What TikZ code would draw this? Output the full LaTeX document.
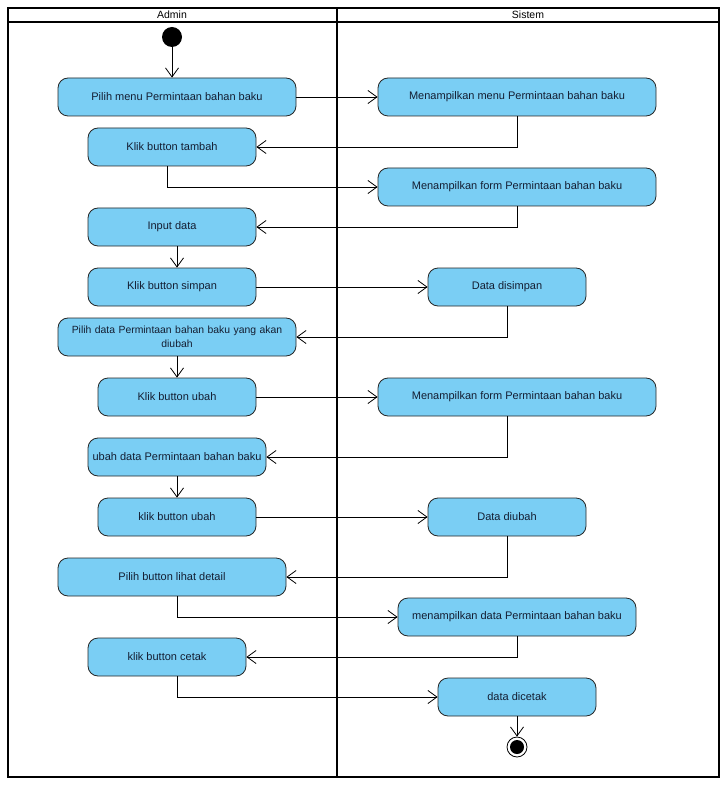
\documentclass[tikz,border=0pt]{standalone}
\usepackage{fontspec}
\setmainfont{Liberation Sans}
\usetikzlibrary{arrows.meta}
\definecolor{actblue}{RGB}{122,206,244}
\definecolor{acttext}{RGB}{20,30,50}

\begin{document}
\begin{tikzpicture}[x=1pt,y=-1pt,
  act/.style={draw=black!85, fill=actblue, rounded corners=10pt, line width=0.8pt,
    minimum height=38pt, inner sep=2pt, align=center, text=acttext,
    font=\fontsize{11}{14}\selectfont},
  flow/.style={-{Straight Barb[length=9pt,width=13pt]}, line width=0.8pt},
  lane/.style={line width=1.8pt},
  lanetitle/.style={font=\fontsize{10.5}{12}\selectfont}]
\useasboundingbox (0,0) rectangle (726,786);
% swimlanes
\draw[lane] (8,8) rectangle (719,777);
\draw[lane] (8,22) -- (719,22);
\draw[lane] (337,8) -- (337,777);
\node[lanetitle] (admin) at (172,15) {Admin};
\node[lanetitle] (sistem) at (528,15) {Sistem};

% start / end
\node[circle, fill=black, minimum size=20pt, inner sep=0pt] (start) at (172,37) {};
\node[circle, draw=black, line width=0.8pt, fill=white, minimum size=20pt, inner sep=0pt] (finish) at (517,747) {};
\fill (finish.center) circle (7pt);

% actions
\node[act, minimum width=238pt] (pilihmenu) at (177,97) {Pilih menu Permintaan bahan baku};
\node[act, minimum width=278pt] (tampilmenu) at (517,97) {Menampilkan menu Permintaan bahan baku};
\node[act, minimum width=168pt] (tambah) at (172,147) {Klik button tambah};
\node[act, minimum width=278pt] (tampilform) at (517,187) {Menampilkan form Permintaan bahan baku};
\node[act, minimum width=168pt] (input) at (172,227) {Input data};
\node[act, minimum width=168pt] (simpan) at (172,287) {Klik button simpan};
\node[act, minimum width=158pt] (disimpan) at (507,287) {Data disimpan};
\node[act, minimum width=238pt, text width=234pt, font=\fontsize{10.4}{13.5}\selectfont] (pilihdata) at (177,337) {Pilih data Permintaan bahan baku yang akan\\diubah};
\node[act, minimum width=158pt] (ubah) at (177,397) {Klik button ubah};
\node[act, minimum width=278pt] (tampilubah) at (517,397) {Menampilkan form Permintaan bahan baku};
\node[act, minimum width=178pt] (ubahdata) at (177,457) {ubah data Permintaan bahan baku};
\node[act, minimum width=158pt] (klikubah) at (177,517) {klik button ubah};
\node[act, minimum width=158pt] (diubah) at (507,517) {Data diubah};
\node[act, minimum width=228pt] (detail) at (172,577) {Pilih button lihat detail};
\node[act, minimum width=238pt] (tampildata) at (517,617) {menampilkan data Permintaan bahan baku};
\node[act, minimum width=158pt] (cetak) at (167,657) {klik button cetak};
\node[act, minimum width=158pt] (dicetak) at (517,697) {data dicetak};

% flows
\draw[flow] (start.south) -- ([xshift=-5pt]pilihmenu.north);
\draw[flow] (pilihmenu.east) -- (tampilmenu.west);
\draw[flow] (tampilmenu.south) |- (tambah.east);
\draw[flow] ([xshift=-5pt]tambah.south) |- (tampilform.west);
\draw[flow] (tampilform.south) |- (input.east);
\draw[flow] ([xshift=5pt]input.south) -- ([xshift=5pt]simpan.north);
\draw[flow] (simpan.east) -- (disimpan.west);
\draw[flow] (disimpan.south) |- (pilihdata.east);
\draw[flow] (pilihdata.south) -- (ubah.north);
\draw[flow] (ubah.east) -- (tampilubah.west);
\draw[flow] ([xshift=-10pt]tampilubah.south) |- (ubahdata.east);
\draw[flow] (ubahdata.south) -- (klikubah.north);
\draw[flow] (klikubah.east) -- (diubah.west);
\draw[flow] (diubah.south) |- (detail.east);
\draw[flow] ([xshift=5pt]detail.south) |- (tampildata.west);
\draw[flow] (tampildata.south) |- (cetak.east);
\draw[flow] ([xshift=10pt]cetak.south) |- (dicetak.west);
\draw[flow] (dicetak.south) -- (finish.north);
\end{tikzpicture}
\end{document}
